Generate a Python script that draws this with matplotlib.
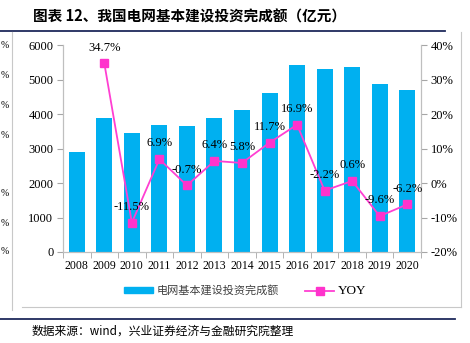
import numpy as np
import matplotlib
matplotlib.use('Agg')
from matplotlib import pyplot as plt
from matplotlib.lines import Line2D

plt.rcParams['font.family'] = ['Liberation Serif', 'Noto Sans CJK SC', 'DejaVu Sans']

# 数据
years = ['2008', '2009', '2010', '2011', '2012', '2013', '2014',
         '2015', '2016', '2017', '2018', '2019', '2020']
invest = [2898, 3898, 3448, 3687, 3661, 3894, 4119,
          4603, 5431, 5315, 5373, 4856, 4699]
yoy = [None, 34.7, -11.5, 6.9, -0.7, 6.4, 5.8,
       11.7, 16.9, -2.2, 0.6, -9.6, -6.2]
bar_label = '电网基本建设投资完成额'
line_label = 'YOY'
title = '图表 12、我国电网基本建设投资完成额（亿元）'
source = '数据来源：wind，兴业证券经济与金融研究院整理'

W, H = 470, 343
fig = plt.figure(figsize=(W / 100, H / 100), dpi=100)

def fx(px):
    return px / W

def fy(py):
    return 1 - py / H

ax = fig.add_axes([fx(63), fy(252), fx(421) - fx(63), fy(45) - fy(252)])
ax2 = ax.twinx()

x = np.arange(len(years))
ax.bar(x, invest, width=0.58, color='#00B0F0', zorder=2)
ax.set_ylim(0, 6000)
ax.set_yticks(np.arange(0, 6001, 1000))
ax.set_xlim(-0.5, len(years) - 0.5)
ax.set_xticks(x)
ax.set_xticklabels(years)
ax.set_xticks(np.arange(-0.5, len(years), 1), minor=True)
ax.tick_params(axis='x', which='major', length=0, pad=6, labelsize=8.5)
ax.tick_params(axis='x', which='minor', length=4, color='#A6A6A6', direction='out')
ax.tick_params(axis='y', length=4, color='#A6A6A6', labelsize=9, pad=3)

yx = [i for i, v in enumerate(yoy) if v is not None]
yv = [v for v in yoy if v is not None]
ln, = ax2.plot(yx, yv, color='#FF3FD2', lw=1.3, marker='s', ms=6,
               mfc='#FF33CC', mec='#FF33CC', zorder=3)
ax2.set_ylim(-20, 40)
ax2.set_yticks(np.arange(-20, 41, 10))
ax2.set_yticklabels(['%d%%' % v for v in range(-20, 41, 10)])
ax2.tick_params(axis='y', length=4, color='#A6A6A6', labelsize=9, pad=3)

for xi, v in zip(yx, yv):
    ax2.annotate('%.1f%%' % v, (xi, v), xytext=(0, 7), textcoords='offset points',
                 ha='center', va='bottom', fontsize=9)

for a in (ax, ax2):
    a.spines['top'].set_visible(False)
    for s in ('left', 'right', 'bottom'):
        a.spines[s].set_color('#BFBFBF')
        a.spines[s].set_linewidth(0.8)

# 图例
handles = [plt.Rectangle((0, 0), 1, 1, color='#00B0F0'), ln]
leg = fig.legend(handles, [bar_label, line_label], loc='center',
                 bbox_to_anchor=(fx(245), fy(291)), ncol=2, frameon=False,
                 handlelength=2.6, handleheight=0.45, columnspacing=2.4,
                 handletextpad=0.3,
                 prop={'family': ['Noto Sans CJK SC'], 'size': 8})
leg.get_texts()[0].set_color('#404040')
leg.get_texts()[1].set_fontfamily(['Liberation Serif'])
leg.get_texts()[1].set_fontsize(9.5)

# 标题与来源
fig.text(fx(33), fy(17), title, fontsize=10.5, fontweight='bold', va='center',
         family=['Noto Sans CJK SC'])
fig.text(fx(32), fy(331), source, fontsize=8.5, va='center',
         family=['Noto Sans CJK SC'])

# 边框线
fig.add_artist(Line2D([0, fx(445)], [fy(31), fy(31)], color='#1F2A5C', lw=1.3))
fig.add_artist(Line2D([0, fx(455)], [fy(319), fy(319)], color='#1F2A5C', lw=1.3))
fig.add_artist(Line2D([fx(12), fx(12)], [fy(32), fy(310)], color='#C8C8C8', lw=0.8))
fig.add_artist(Line2D([fx(461), fx(461)], [fy(32), fy(307)], color='#C8C8C8', lw=0.8))
fig.add_artist(Line2D([fx(22), fx(461)], [fy(307), fy(307)], color='#C8C8C8', lw=0.8))

# 左侧残留的刻度符号
for py in [45, 75, 105, 135, 193, 223, 252]:
    fig.text(fx(0.5), fy(py), '%', fontsize=7, va='center', ha='left')

fig.savefig('out.png', dpi=100)
